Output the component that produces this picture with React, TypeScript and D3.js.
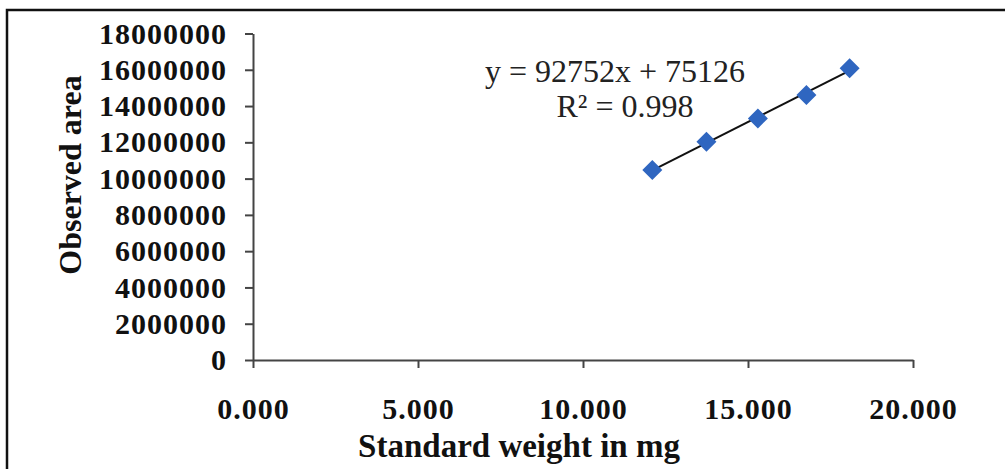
import React, { useEffect, useRef } from 'react';
import * as d3 from 'd3';

// values
const weights = [12.1, 13.74, 15.3, 16.77, 18.08];
const areas = [10470000, 12030000, 13320000, 14610000, 16080000];
const xTicks = [0, 5, 10, 15, 20];
const yTicks = [0, 2000000, 4000000, 6000000, 8000000, 10000000, 12000000, 14000000, 16000000, 18000000];
const equationText = 'y = 92752x + 75126';
const r2Text = 'R² = 0.998';
const xTitle = 'Standard weight in mg';
const yTitle = 'Observed area';

const W = 1005;
const H = 469;
const FONT = '"Liberation Serif", "Times New Roman", serif';

const App = () => {
    const svgRef = useRef<SVGSVGElement>(null);

    useEffect(() => {
        const svg = d3.select(svgRef.current);
        svg.selectAll('*').remove();

        const x = d3.scaleLinear().domain([0, 20]).range([253, 913]);
        const y = d3.scaleLinear().domain([0, 18000000]).range([360, 33.5]);

        svg.append('rect').attr('width', W).attr('height', H).attr('fill', '#fff');

        // outer frame (left and top edges show in the picture)
        svg.append('path')
            .attr('d', `M7,${H} L7,10 L${W},10`)
            .attr('fill', 'none')
            .attr('stroke', '#111')
            .attr('stroke-width', 2.5);

        // y axis
        const yAxis = svg.append('g')
            .attr('transform', 'translate(253,0)')
            .call(d3.axisLeft(y).tickValues(yTicks).tickSize(8).tickSizeOuter(0).tickPadding(18).tickFormat(d3.format('d')));
        yAxis.selectAll('text')
            .attr('font-family', FONT)
            .attr('font-size', 30)
            .attr('font-weight', 'bold')
            .attr('letter-spacing', 1)
            .attr('fill', '#111');

        // x axis
        const xAxis = svg.append('g')
            .attr('transform', 'translate(0,360)')
            .call(d3.axisBottom(x).tickValues(xTicks).tickSize(8).tickSizeOuter(0).tickPadding(30).tickFormat(d3.format('.3f')));
        xAxis.selectAll('text')
            .attr('font-family', FONT)
            .attr('font-size', 30)
            .attr('font-weight', 'bold')
            .attr('letter-spacing', 1)
            .attr('fill', '#111');

        svg.selectAll('.domain, .tick line')
            .attr('stroke', '#444')
            .attr('stroke-width', 2);

        // axis titles
        svg.append('text')
            .attr('transform', 'translate(81,175) rotate(-90)')
            .attr('text-anchor', 'middle')
            .attr('font-family', FONT)
            .attr('font-size', 32)
            .attr('font-weight', 'bold')
            .attr('fill', '#111')
            .text(yTitle);

        svg.append('text')
            .attr('x', 519)
            .attr('y', 457)
            .attr('text-anchor', 'middle')
            .attr('font-family', FONT)
            .attr('font-size', 33)
            .attr('font-weight', 'bold')
            .attr('fill', '#111')
            .text(xTitle);

        // linear trendline (least squares over the points)
        const mx = d3.mean(weights) as number;
        const my = d3.mean(areas) as number;
        const slope = d3.sum(weights, (w, i) => (w - mx) * (areas[i] - my)) / d3.sum(weights, w => (w - mx) ** 2);
        const icpt = my - slope * mx;
        const [x0, x1] = d3.extent(weights) as [number, number];
        svg.append('line')
            .attr('x1', x(x0)).attr('y1', y(slope * x0 + icpt))
            .attr('x2', x(x1)).attr('y2', y(slope * x1 + icpt))
            .attr('stroke', '#111')
            .attr('stroke-width', 2);

        // diamond markers
        const diamond = d3.symbol().type(d3.symbolSquare).size(200);
        svg.selectAll('path.pt')
            .data(weights)
            .enter()
            .append('path')
            .attr('class', 'pt')
            .attr('d', diamond)
            .attr('transform', (d, i) => `translate(${x(d)},${y(areas[i])}) rotate(45)`)
            .attr('fill', '#2f66c0');

        // trendline label
        svg.append('text')
            .attr('x', 615)
            .attr('y', 82)
            .attr('text-anchor', 'middle')
            .attr('font-family', FONT)
            .attr('font-size', 32)
            .attr('fill', '#222')
            .text(equationText);
        svg.append('text')
            .attr('x', 625)
            .attr('y', 117)
            .attr('text-anchor', 'middle')
            .attr('font-family', FONT)
            .attr('font-size', 32)
            .attr('fill', '#222')
            .text(r2Text);
    }, []);

    return (
        <svg
            ref={svgRef}
            width={W}
            height={H}
            style={{ position: 'absolute', left: 0, top: 0, display: 'block' }}
        />
    );
};

export default App;
